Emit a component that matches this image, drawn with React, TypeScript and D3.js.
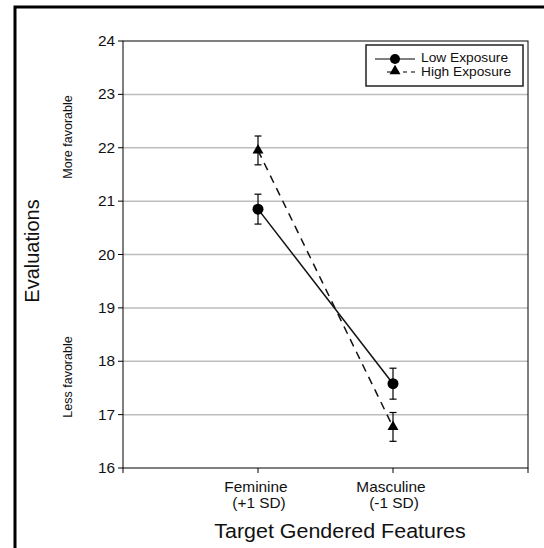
import React from 'react';
import * as d3 from 'd3';

const conditions = ['Feminine', 'Masculine'];
const subLabels = ['(+1 SD)', '(-1 SD)'];
const lowMeans = [20.85, 17.58];
const lowErrors = [0.28, 0.29];
const highMeans = [21.95, 16.77];
const highErrors = [0.27, 0.27];
const yTicks = [16, 17, 18, 19, 20, 21, 22, 23, 24];

const W = 544;
const H = 548;
const left = 123;
const right = 528;
const top = 41;
const bottom = 468;
const font = '"Liberation Sans", Arial, Helvetica, sans-serif';

const App = () => {
  const x = d3.scalePoint<string>().domain(conditions).range([left, right]).padding(1);
  const y = d3.scaleLinear().domain([16, 24]).range([bottom, top]);

  const line = d3.line<number>()
    .x((_, i) => x(conditions[i]) as number)
    .y(d => y(d));

  const tri = d3.symbol().type(d3.symbolTriangle).size(52)() as string;

  const errorBar = (cx: number, m: number, e: number, key: string) => (
    <g key={key} stroke="#000" strokeWidth={1.2}>
      <line x1={cx} x2={cx} y1={y(m + e)} y2={y(m - e)} />
      <line x1={cx - 3.5} x2={cx + 3.5} y1={y(m + e)} y2={y(m + e)} />
      <line x1={cx - 3.5} x2={cx + 3.5} y1={y(m - e)} y2={y(m - e)} />
    </g>
  );

  const hText = (tx: number, ty: number, s: string, size: number, anchor = 'middle') => (
    <text
      key={s + tx + ty}
      transform={`translate(${tx},${ty}) scale(1.1,1)`}
      textAnchor={anchor}
      fontSize={size}
      fontFamily={font}
      fill="#111"
    >
      {s}
    </text>
  );

  const xTicks = [left, ...conditions.map(c => x(c) as number), right];

  return (
    <svg width={W} height={H} style={{ position: 'absolute', left: 0, top: 0, background: '#fff' }}>
      <rect x={0} y={0} width={W} height={H} fill="#fff" />
      {/* outer frame */}
      <path d={`M15,${H + 5}V7H${W + 5}`} fill="none" stroke="#000" strokeWidth={3} />

      {/* gridlines */}
      {yTicks.slice(1, -1).map(t => (
        <line key={'g' + t} x1={left} x2={right} y1={y(t)} y2={y(t)} stroke="#bdbdbd" strokeWidth={1.5} />
      ))}

      {/* plot frame */}
      <rect x={left} y={top} width={right - left} height={bottom - top} fill="none" stroke="#000" strokeWidth={1} />

      {/* y ticks */}
      {yTicks.map(t => (
        <g key={'y' + t}>
          <line x1={left - 5} x2={left} y1={y(t)} y2={y(t)} stroke="#000" />
          {hText(115, y(t) + 5, String(t), 14, 'end')}
        </g>
      ))}

      {/* x ticks */}
      {xTicks.map((t, i) => (
        <line key={'x' + i} x1={t} x2={t} y1={bottom} y2={bottom + 5} stroke="#000" />
      ))}
      {conditions.map((c, i) => (
        <g key={'xl' + c}>
          {hText((x(c) as number) - 2, 492, c, 14)}
          {hText((x(c) as number) + 1, 508, subLabels[i], 14)}
        </g>
      ))}
      {hText(340, 538, 'Target Gendered Features', 19.5)}

      {/* y labels */}
      <text transform="translate(39,251) rotate(-90)" textAnchor="middle" fontSize={20} fontFamily={font} fill="#111">
        Evaluations
      </text>
      <text transform="translate(72,137) rotate(-90)" textAnchor="middle" fontSize={12.5} fontFamily={font} fill="#111">
        More favorable
      </text>
      <text transform="translate(72,377) rotate(-90)" textAnchor="middle" fontSize={12.5} fontFamily={font} fill="#111">
        Less favorable
      </text>

      {/* series lines */}
      <path d={line(lowMeans) as string} fill="none" stroke="#111" strokeWidth={1.5} />
      <path d={line(highMeans) as string} fill="none" stroke="#111" strokeWidth={1.5} strokeDasharray="8,6" />

      {/* error bars */}
      {conditions.map((c, i) => errorBar(x(c) as number, lowMeans[i], lowErrors[i], 'el' + i))}
      {conditions.map((c, i) => errorBar(x(c) as number, highMeans[i], highErrors[i], 'eh' + i))}

      {/* markers */}
      {conditions.map((c, i) => (
        <circle key={'c' + i} cx={x(c) as number} cy={y(lowMeans[i])} r={5.5} fill="#000" />
      ))}
      {conditions.map((c, i) => (
        <path key={'t' + i} d={tri} transform={`translate(${x(c)},${y(highMeans[i])})`} fill="#000" />
      ))}

      {/* legend */}
      <rect x={366} y={45} width={157} height={41} fill="#fff" stroke="#222" strokeWidth={1.5} />
      <line x1={375} x2={415} y1={59} y2={59} stroke="#000" strokeWidth={1.2} />
      <circle cx={395} cy={59} r={5} fill="#000" />
      <line x1={387} x2={415} y1={72} y2={72} stroke="#000" strokeWidth={1.2} strokeDasharray="4,4" />
      <path d={tri} transform="translate(395,71)" fill="#000" />
      {hText(421, 62, 'Low Exposure', 12.5, 'start')}
      {hText(421, 75.5, 'High Exposure', 12.5, 'start')}
    </svg>
  );
};

export default App;
